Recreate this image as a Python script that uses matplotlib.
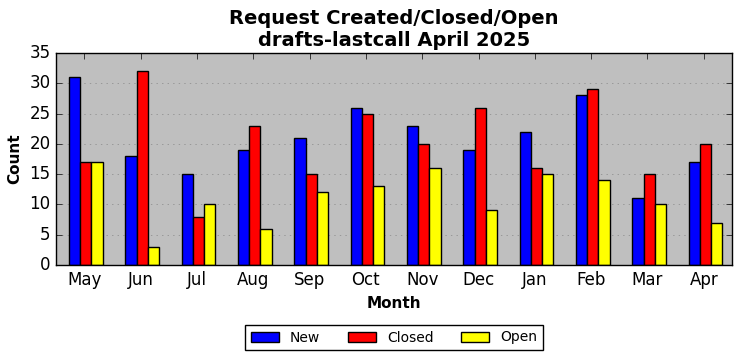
import matplotlib
matplotlib.use("Agg")
import matplotlib.pyplot as plt
import numpy as np

plt.style.use("classic")

months = ["May", "Jun", "Jul", "Aug", "Sep", "Oct", "Nov", "Dec", "Jan", "Feb", "Mar", "Apr"]
new = [31, 18, 15, 19, 21, 26, 23, 19, 22, 28, 11, 17]
closed = [17, 32, 8, 23, 15, 25, 20, 26, 16, 29, 15, 20]
open_ = [17, 3, 10, 6, 12, 13, 16, 9, 15, 14, 10, 7]

x = np.arange(len(months))
w = 0.2

fig = plt.figure(figsize=(7.42, 3.61), dpi=100)
ax = fig.add_axes([56 / 742, 1 - 265 / 361, 676 / 742, 212 / 361])
ax.set_facecolor("#bfbfbf")

ax.bar(x - w + 0.03, new, w, color="blue", edgecolor="black", label="New", align="center")
ax.bar(x + 0.03, closed, w, color="red", edgecolor="black", label="Closed", align="center")
ax.bar(x + w + 0.03, open_, w, color="yellow", edgecolor="black", label="Open", align="center")

ax.set_xlim(-0.5, len(months) - 0.5)
ax.set_ylim(0, 35)
ax.set_xticks(x)
ax.set_xticklabels(months)
ax.yaxis.grid(True, linestyle=":", color="#888888")
ax.set_axisbelow(True)

ax.set_title("Request Created/Closed/Open\ndrafts-lastcall April 2025", fontsize=14, fontweight="bold")
ax.set_xlabel("Month", fontsize=11, fontweight="bold")
ax.set_ylabel("Count", fontsize=11, fontweight="bold")

ax.legend(loc="upper center", bbox_to_anchor=(0.5, -0.25), ncol=3, fontsize=10)

fig.savefig("out.png", dpi=100)
